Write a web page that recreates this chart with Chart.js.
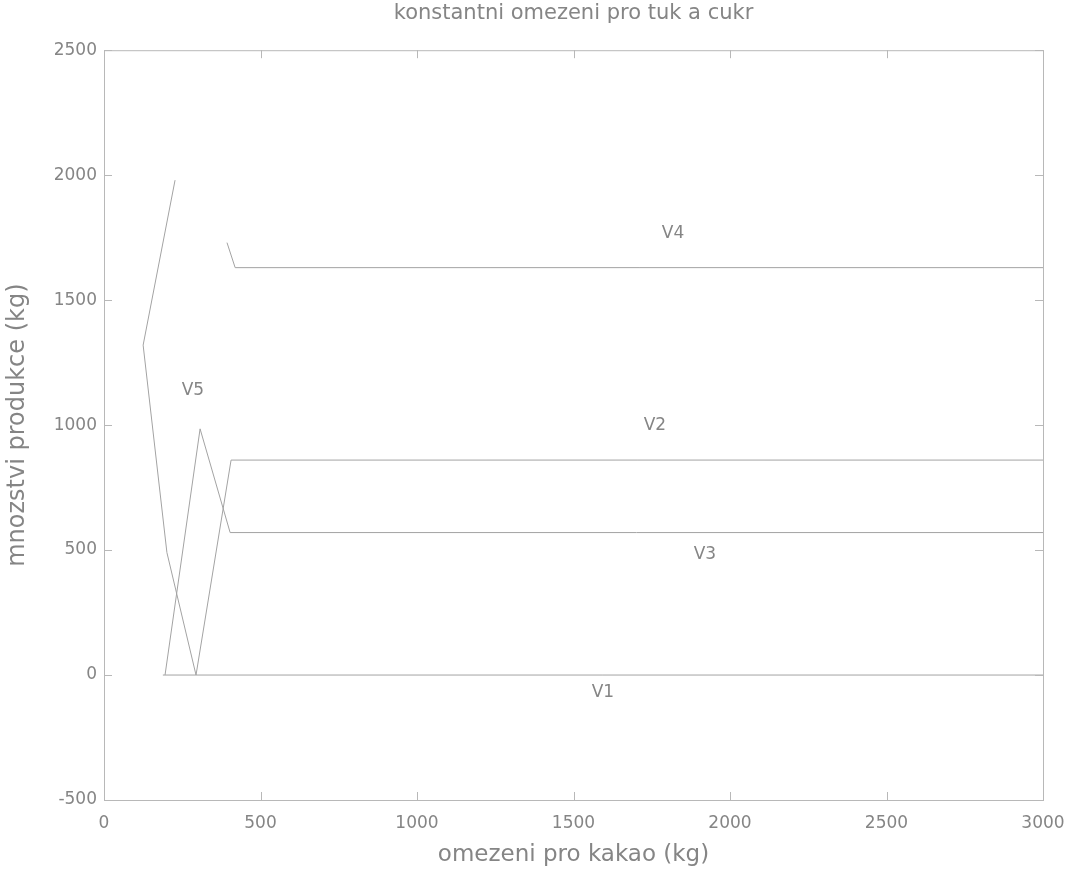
<!DOCTYPE html>
<html>
<head>
<meta charset="utf-8">
<script src="https://cdn.jsdelivr.net/npm/chart.js@4.4.0/dist/chart.umd.min.js"></script>
<style>
  body { margin: 0; background: #fff; }
</style>
</head>
<body>
<canvas id="chart" width="1080" height="872"></canvas>
<script>
// omezeni pro kakao (kg) vs. mnozstvi produkce (kg)
const v1X = [188, 3000];
const v1Y = [0, 0];
const v2X = [294, 406, 3000];
const v2Y = [0, 860, 860];
const v3X = [195, 307, 403, 3000];
const v3Y = [0, 985, 570, 570];
const v4X = [393, 419, 3000];
const v4Y = [1730, 1630, 1630];
const v5X = [227, 125, 201, 294];
const v5Y = [1980, 1320, 490, 0];

const xTicks = [0, 500, 1000, 1500, 2000, 2500, 3000];
const yTicks = [-500, 0, 500, 1000, 1500, 2000, 2500];

// series labels placed inside the axes
const labelNames = ['V1', 'V2', 'V3', 'V4', 'V5'];
const labelX = [1594, 1760, 1920, 1818, 284];
const labelY = [-72, 1000, 480, 1768, 1140];

const textColor = '#858585';
const lineColor = '#a3a3a3';
const fontFamily = '"DejaVu Sans", Verdana, sans-serif';

function pts(xs, ys) {
  return xs.map((x, i) => ({ x: x, y: ys[i] }));
}

function series(xs, ys) {
  return {
    data: pts(xs, ys),
    borderColor: lineColor,
    borderWidth: 1,
    pointRadius: 0,
    tension: 0,
    fill: false
  };
}

// axes box, inward ticks and the V1..V5 labels
const matlabAxes = {
  id: 'matlabAxes',
  afterDatasetsDraw(chart) {
    const ctx = chart.ctx;
    const a = chart.chartArea;
    const xs = chart.scales.x;
    const ys = chart.scales.y;
    ctx.save();
    ctx.strokeStyle = '#b8b8b8';
    ctx.lineWidth = 1;
    ctx.strokeRect(a.left + 0.5, a.top + 0.5, a.right - a.left, a.bottom - a.top);

    ctx.beginPath();
    xTicks.forEach(v => {
      const px = Math.round(xs.getPixelForValue(v)) + 0.5;
      ctx.moveTo(px, a.bottom); ctx.lineTo(px, a.bottom - 8);
      ctx.moveTo(px, a.top); ctx.lineTo(px, a.top + 8);
    });
    yTicks.forEach(v => {
      const py = Math.round(ys.getPixelForValue(v)) + 0.5;
      ctx.moveTo(a.left, py); ctx.lineTo(a.left + 8, py);
      ctx.moveTo(a.right, py); ctx.lineTo(a.right - 8, py);
    });
    ctx.stroke();

    ctx.fillStyle = textColor;
    ctx.font = '17px ' + fontFamily;
    ctx.textAlign = 'center';
    ctx.textBaseline = 'middle';
    labelNames.forEach((name, i) => {
      ctx.fillText(name, xs.getPixelForValue(labelX[i]), ys.getPixelForValue(labelY[i]));
    });
    ctx.restore();
  }
};

new Chart(document.getElementById('chart'), {
  type: 'line',
  data: {
    datasets: [
      series(v1X, v1Y),
      series(v2X, v2Y),
      series(v3X, v3Y),
      series(v4X, v4Y),
      series(v5X, v5Y)
    ]
  },
  options: {
    responsive: false,
    animation: false,
    layout: { padding: { left: 0, right: 37, top: 0, bottom: 0 } },
    plugins: {
      legend: { display: false },
      tooltip: { enabled: false },
      title: {
        display: true,
        fullSize: false,
        text: 'konstantni omezeni pro tuk a cukr',
        color: textColor,
        font: { family: fontFamily, size: 21, weight: 'normal' },
        padding: { top: 1, bottom: 24 }
      }
    },
    scales: {
      x: {
        type: 'linear',
        min: 0,
        max: 3000,
        afterBuildTicks: s => { s.ticks = xTicks.map(v => ({ value: v })); },
        afterFit: s => { s.height = 72; },
        grid: { display: false, drawTicks: false },
        border: { display: false },
        ticks: {
          color: textColor,
          padding: 13,
          maxRotation: 0,
          font: { family: fontFamily, size: 17 },
          callback: v => String(v)
        },
        title: {
          display: true,
          text: 'omezeni pro kakao (kg)',
          color: textColor,
          font: { family: fontFamily, size: 23 },
          padding: { top: 0, bottom: 3 }
        }
      },
      y: {
        type: 'linear',
        min: -500,
        max: 2500,
        afterBuildTicks: s => { s.ticks = yTicks.map(v => ({ value: v })); },
        afterFit: s => { s.width = 104; },
        grid: { display: false, drawTicks: false },
        border: { display: false },
        ticks: {
          color: textColor,
          padding: 7,
          font: { family: fontFamily, size: 17 },
          callback: v => String(v)
        },
        title: {
          display: true,
          text: 'mnozstvi produkce (kg)',
          color: textColor,
          font: { family: fontFamily, size: 24 },
          padding: { top: 3, bottom: 0 }
        }
      }
    }
  },
  plugins: [matlabAxes]
});
</script>
</body>
</html>
